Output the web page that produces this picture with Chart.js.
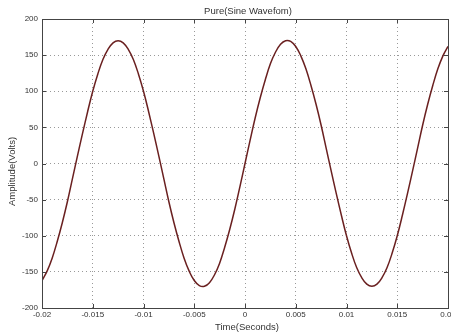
<!DOCTYPE html>
<html>
<head>
<meta charset="utf-8">
<script src="https://cdn.jsdelivr.net/npm/chart.js@4/dist/chart.umd.min.js"></script>
<style>
  html, body { margin: 0; padding: 0; background: #fff; }
  #wrap { width: 451px; height: 333px; }
</style>
</head>
<body>
<div id="wrap"><canvas id="sinePlot" width="451" height="333"></canvas></div>
<script>
// time samples, seconds (every 0.5 ms)
const timeValues = [];
for (let i = -40; i <= 40; i++) timeValues.push(i * 0.0005);

// amplitude, volts
const voltValues = [
    -162, -149, -131, -108, -82, -53, -21, 11, 42, 72,
    100, 124, 144, 158, 167, 170, 167, 158, 144, 124,
    100, 72, 42, 11, -21, -53, -82, -108, -131, -149,
    -162, -169, -170, -165, -154, -138, -116, -91, -63, -32,
    0,
    32, 63, 91, 116, 138, 154, 165, 170, 169, 162,
    149, 131, 108, 82, 53, 21, -11, -42, -72, -100,
    -124, -144, -158, -167, -170, -167, -158, -144, -124, -100,
    -72, -42, -11, 21, 53, 82, 108, 131, 149, 162
];

const xTicks = [-0.02, -0.015, -0.01, -0.005, 0, 0.005, 0.01, 0.015, 0.02];
const yTicks = [-200, -150, -100, -50, 0, 50, 100, 150, 200];

const titleText = 'Pure(Sine Wavefom)';
const xLabel = 'Time(Seconds)';
const yLabel = 'Amplitude(Volts)';

const fontFamily = '"Liberation Sans", Arial, sans-serif';
const textColor = '#333';

// box round the plot, inward tick marks and the three labels
const boxPlugin = {
    id: 'box',
    afterDraw(c) {
        const ctx = c.ctx;
        const a = c.chartArea;
        const xs = c.scales.x;
        const ys = c.scales.y;
        ctx.save();
        ctx.strokeStyle = '#444';
        ctx.lineWidth = 1;
        ctx.beginPath();
        xTicks.forEach(v => {
            const px = Math.round(xs.getPixelForValue(v)) + 0.5;
            ctx.moveTo(px, a.bottom); ctx.lineTo(px, a.bottom - 4);
            ctx.moveTo(px, a.top); ctx.lineTo(px, a.top + 4);
        });
        yTicks.forEach(v => {
            const py = Math.round(ys.getPixelForValue(v)) + 0.5;
            ctx.moveTo(a.left, py); ctx.lineTo(a.left + 4, py);
            ctx.moveTo(a.right, py); ctx.lineTo(a.right - 4, py);
        });
        ctx.stroke();
        ctx.strokeRect(Math.round(a.left) + 0.5, Math.round(a.top) + 0.5,
            Math.round(a.right - a.left), Math.round(a.bottom - a.top));

        const mid = (a.left + a.right) / 2;
        ctx.fillStyle = textColor;
        ctx.font = '9.5px ' + fontFamily;
        ctx.textAlign = 'center';
        ctx.textBaseline = 'middle';
        ctx.fillText(titleText, mid + 3, 11);
        ctx.fillText(xLabel, mid + 2, 327);
        ctx.translate(12, (a.top + a.bottom) / 2 + 8);
        ctx.rotate(-Math.PI / 2);
        ctx.fillText(yLabel, 0, 0);
        ctx.restore();
    }
};

const ctx = document.getElementById('sinePlot').getContext('2d');

new Chart(ctx, {
    type: 'line',
    data: {
        datasets: [{
            data: timeValues.map((t, i) => ({ x: t, y: voltValues[i] })),
            borderColor: '#6a2020',
            borderWidth: 1.5,
            pointRadius: 0,
            tension: 0.4,
            fill: false
        }]
    },
    options: {
        responsive: false,
        animation: false,
        layout: { padding: { left: 0, right: 3, top: 19, bottom: 0 } },
        plugins: {
            legend: { display: false },
            tooltip: { enabled: false },
            title: { display: false }
        },
        scales: {
            x: {
                type: 'linear',
                min: -0.02,
                max: 0.02,
                afterBuildTicks: s => { s.ticks = xTicks.map(v => ({ value: v })); },
                afterFit: s => { s.height = 25; s.paddingLeft = 0; s.paddingRight = 0; },
                ticks: {
                    color: textColor,
                    font: { family: fontFamily, size: 8 },
                    padding: 2,
                    maxRotation: 0,
                    autoSkip: false,
                    callback: v => String(Number(v.toFixed(3)))
                },
                grid: { color: '#999', drawTicks: false },
                border: { display: false, dash: [1, 3] }
            },
            y: {
                min: -200,
                max: 200,
                afterBuildTicks: s => { s.ticks = yTicks.map(v => ({ value: v })); },
                afterFit: s => { s.width = 42; },
                ticks: {
                    color: textColor,
                    font: { family: fontFamily, size: 8 },
                    padding: 4,
                    autoSkip: false
                },
                grid: { color: '#999', drawTicks: false },
                border: { display: false, dash: [1, 3] }
            }
        }
    },
    plugins: [boxPlugin]
});
</script>
</body>
</html>
